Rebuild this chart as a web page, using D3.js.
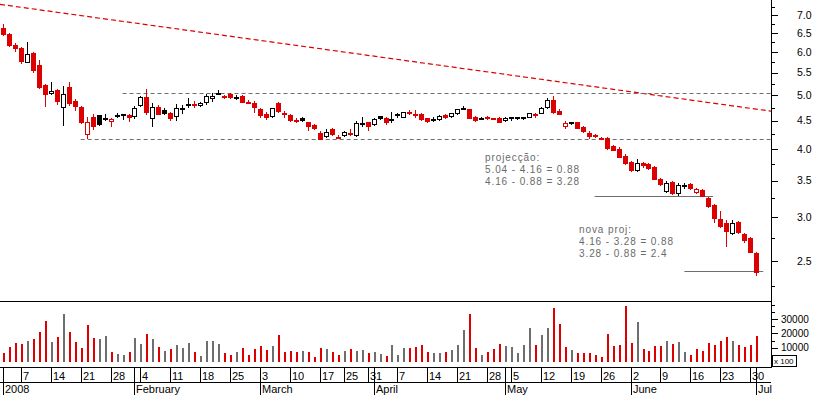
<!DOCTYPE html>
<html>
<head>
<meta charset="utf-8">
<script src="https://cdn.jsdelivr.net/npm/d3@7"></script>
<style>
  body { margin: 0; background: #fff; }
  svg { display: block; }
  text { font-family: "Liberation Sans", Arial, sans-serif; }
</style>
</head>
<body>
<div id="chart"></div>
<script>
// ---- data ----
const holidays = ["2008-03-21", "2008-03-24", "2008-05-01"];

const open = [6.63,6.47,6.17,6.09,5.76,5.98,5.68,5.22,5.04,5.12,
  4.76,5.18,4.88,4.77,4.25,4.56,4.60,4.53,4.50,4.60,
  4.61,4.60,4.59,4.80,4.96,4.54,4.76,4.70,4.64,4.59,
  4.74,4.81,4.82,4.80,4.86,4.95,5.03,4.99,5.03,4.97,
  4.99,4.87,4.84,4.72,4.63,4.59,4.84,4.65,4.61,4.51,
  4.54,4.47,4.42,4.28,4.22,4.34,4.20,4.24,4.28,4.24,
  4.45,4.47,4.43,4.58,4.55,4.52,4.61,4.57,4.66,4.63,
  4.62,4.54,4.51,4.52,4.61,4.58,4.64,4.73,4.72,4.57,
  4.54,4.57,4.54,4.55,4.51,4.55,4.55,4.55,4.57,4.63,
  4.65,4.76,4.91,4.68,4.40,4.46,4.47,4.38,4.28,4.24,
  4.19,4.19,4.05,4.00,3.88,3.79,3.66,3.76,3.75,3.71,
  3.53,3.35,3.48,3.32,3.43,3.45,3.33,3.37,3.26,3.16,
  2.98,2.93,2.81,2.94,2.80,2.75,2.58];

const high = [6.74,6.49,6.23,6.12,6.25,6.00,5.80,5.24,5.29,5.14,
  5.20,5.29,4.93,4.78,4.56,4.63,4.61,4.63,4.54,4.64,
  4.62,4.62,4.78,4.99,5.14,4.84,4.80,4.74,4.66,4.82,
  4.80,4.94,4.88,4.87,5.03,5.04,5.11,5.01,5.04,5.01,
  5.00,4.91,4.88,4.74,4.66,4.75,4.86,4.68,4.63,4.54,
  4.56,4.48,4.44,4.30,4.35,4.37,4.23,4.30,4.34,4.49,
  4.56,4.48,4.54,4.58,4.57,4.67,4.65,4.67,4.70,4.70,
  4.64,4.55,4.56,4.60,4.63,4.65,4.73,4.79,4.73,4.58,
  4.57,4.59,4.55,4.57,4.57,4.56,4.56,4.56,4.65,4.64,
  4.77,4.94,4.98,4.72,4.50,4.47,4.48,4.39,4.30,4.25,
  4.20,4.20,4.07,4.03,3.91,3.80,3.83,3.78,3.76,3.72,
  3.54,3.49,3.49,3.47,3.47,3.46,3.39,3.38,3.27,3.17,
  3.08,2.97,2.97,2.96,2.81,2.76,2.59];

const low = [6.44,6.15,6.03,5.72,5.74,5.52,5.15,4.78,5.03,4.82,
  4.42,4.80,4.70,4.45,4.18,4.34,4.42,4.51,4.40,4.57,
  4.53,4.49,4.55,4.78,4.62,4.40,4.62,4.63,4.51,4.51,
  4.65,4.77,4.76,4.78,4.82,4.89,5.03,4.95,4.95,4.93,
  4.86,4.85,4.67,4.57,4.53,4.57,4.67,4.57,4.49,4.48,
  4.49,4.33,4.34,4.16,4.20,4.24,4.18,4.22,4.24,4.22,
  4.40,4.33,4.41,4.52,4.44,4.48,4.57,4.57,4.62,4.57,
  4.51,4.47,4.49,4.51,4.54,4.57,4.63,4.73,4.54,4.49,
  4.53,4.53,4.52,4.47,4.50,4.51,4.52,4.52,4.57,4.57,
  4.64,4.74,4.64,4.62,4.37,4.44,4.36,4.29,4.19,4.20,
  4.16,3.99,3.97,3.86,3.75,3.64,3.64,3.71,3.67,3.52,
  3.43,3.34,3.31,3.30,3.39,3.38,3.32,3.28,3.13,2.94,
  2.88,2.66,2.80,2.81,2.71,2.59,2.36];

const close = [6.46,6.17,6.11,5.78,5.95,5.56,5.17,5.03,5.09,4.89,
  5.02,4.85,4.78,4.48,4.47,4.40,4.44,4.54,4.53,4.61,
  4.62,4.56,4.74,4.96,4.67,4.77,4.63,4.65,4.55,4.74,
  4.75,4.82,4.81,4.84,4.98,4.99,5.04,4.97,4.96,4.97,
  4.87,4.86,4.77,4.61,4.56,4.74,4.69,4.64,4.51,4.50,
  4.51,4.40,4.36,4.16,4.29,4.25,4.19,4.29,4.27,4.45,
  4.46,4.39,4.53,4.54,4.48,4.53,4.62,4.66,4.65,4.62,
  4.52,4.50,4.52,4.59,4.56,4.64,4.72,4.74,4.55,4.51,
  4.55,4.54,4.53,4.48,4.55,4.56,4.56,4.56,4.64,4.62,
  4.74,4.91,4.67,4.63,4.46,4.47,4.37,4.30,4.22,4.21,
  4.18,4.01,3.98,3.87,3.76,3.66,3.76,3.73,3.69,3.53,
  3.45,3.46,3.32,3.43,3.44,3.39,3.38,3.28,3.14,2.99,
  2.89,2.83,2.93,2.82,2.73,2.60,2.39];

const volume = [6500,10700,13500,12800,14900,16300,21200,28900,14200,17700,
  33600,21200,14200,10000,25900,17000,15900,18400,7200,5600,
  4900,7000,17000,12800,19600,16300,10700,7900,9100,12100,
  10000,13500,7200,4200,14900,14500,12800,6300,4900,7200,
  10000,4900,8900,11400,8600,11400,18900,7200,7900,7200,
  7900,7000,3700,10000,9100,7200,4900,7900,9300,7900,
  8600,6300,7200,5600,4400,12100,4900,10000,10000,10700,
  11900,7000,6300,6300,7000,8400,11900,22600,33600,10000,
  4900,7000,9100,12600,11200,10500,6300,11900,24000,11900,
  18900,24000,37700,26600,10500,8400,6300,6300,6300,4900,
  3500,19600,11200,11900,39100,13300,28000,9100,7700,11200,
  11200,14700,12600,14000,7000,4900,9100,7700,13300,11900,
  14700,17500,14700,11900,10500,11900,18200];

const monthLabels = ["2008", "February", "March", "April", "May", "June", "Jul"];
const priceTicks = [2.5, 3.0, 3.5, 4.0, 4.5, 5.0, 5.5, 6.0, 6.5, 7.0];
const priceMinorTicks = [2.25, 2.75, 3.25, 3.75, 4.25, 4.75, 5.25, 5.75, 6.25, 6.75, 7.25];
const volumeTicks = [10000, 20000, 30000];
const volumeMinorTicks = [5000, 15000, 25000, 35000, 40000];

// drawn lines: trend (red dashed), support/resistance (grey dashed), projections (grey solid)
const trendLine = [{i: -0.5, v: 7.32}, {i: 128.5, v: 4.68}];
const levelLines = [{v: 5.04, from: 20}, {v: 4.16, from: 13}];
const projLines = [{v: 3.28, from: 99, to: 118.8}, {v: 2.4, from: 114, to: 127.2}];

// ---- trading days ----
const hol = new Set(holidays);
const fmt = d3.timeFormat("%Y-%m-%d");
const days = d3.timeDay.range(new Date(2008, 0, 2), new Date(2008, 6, 2))
  .filter(d => d.getDay() !== 0 && d.getDay() !== 6 && !hol.has(fmt(d)));

const data = days.map((d, i) => ({
  i, date: d, open: open[i], high: high[i], low: low[i], close: close[i], volume: volume[i],
  up: i === 0 ? false : close[i] >= close[i - 1]
}));

// ---- layout ----
const W = 817, H = 395;
const plotRight = 771;
const priceBottom = 301, volBottom = 362, axisTop = 367, dayRow = 382;
const RED = "#dd0000", GREY = "#6e6e6e";

const svg = d3.select("#chart").append("svg").attr("width", W).attr("height", H);

const x = d3.scaleLinear().domain([-0.5, 128.5]).range([0, plotRight]);
const y = d3.scaleLog().domain([2.1135, 7.455]).range([priceBottom, 0]);
const vy = d3.scaleLinear().domain([0, 42650]).range([volBottom, priceBottom]);
const cx = i => Math.round(x(i));

svg.append("clipPath").attr("id", "pclip")
  .append("rect").attr("x", 0).attr("y", 0).attr("width", plotRight).attr("height", priceBottom);

const price = svg.append("g").attr("clip-path", "url(#pclip)");

// trend line
price.append("line")
  .attr("x1", x(trendLine[0].i)).attr("y1", y(trendLine[0].v))
  .attr("x2", x(trendLine[1].i)).attr("y2", y(trendLine[1].v))
  .attr("stroke", RED).attr("stroke-width", 1.2).attr("stroke-dasharray", "5,3");

// dashed levels
price.selectAll(".level").data(levelLines).enter().append("line")
  .attr("x1", d => x(d.from)).attr("x2", plotRight)
  .attr("y1", d => Math.round(y(d.v)) + 0.5).attr("y2", d => Math.round(y(d.v)) + 0.5)
  .attr("stroke", GREY).attr("stroke-width", 1).attr("stroke-dasharray", "4,3");

// projection lines
price.selectAll(".proj").data(projLines).enter().append("line")
  .attr("x1", d => x(d.from)).attr("x2", d => x(d.to))
  .attr("y1", d => Math.round(y(d.v)) + 0.5).attr("y2", d => Math.round(y(d.v)) + 0.5)
  .attr("stroke", GREY).attr("stroke-width", 1.2);

// candles
const candle = price.selectAll(".candle").data(data).enter().append("g")
  .attr("shape-rendering", "crispEdges");

candle.append("line")
  .attr("x1", d => cx(d.i) + 0.5).attr("x2", d => cx(d.i) + 0.5)
  .attr("y1", d => Math.round(y(d.high))).attr("y2", d => Math.round(y(d.low)) + 1)
  .attr("stroke", d => d.up ? "#000" : RED);

candle.each(function (d) {
  const g = d3.select(this);
  const col = d.up ? "#000" : RED;
  const top = Math.round(y(Math.max(d.open, d.close)));
  const bot = Math.round(y(Math.min(d.open, d.close)));
  const hollow = d.close > d.open;
  if (bot - top < 2) {
    g.append("rect").attr("x", cx(d.i) - 2).attr("y", top).attr("width", 5).attr("height", 2)
      .attr("fill", col);
  } else if (hollow) {
    g.append("rect").attr("x", cx(d.i) - 1.5).attr("y", top + 0.5)
      .attr("width", 4).attr("height", bot - top)
      .attr("fill", "#fff").attr("stroke", col).attr("stroke-width", 1);
  } else {
    g.append("rect").attr("x", cx(d.i) - 2).attr("y", top)
      .attr("width", 5).attr("height", bot - top + 1).attr("fill", col);
  }
});

// annotations
const note = svg.append("g").attr("fill", "#6a6a6a")
  .style("font-family", "'DejaVu Sans', sans-serif").style("font-size", "10px")
  .style("letter-spacing", "0.9px");
[["projecção:", 161], ["5.04 - 4.16 = 0.88", 173], ["4.16 - 0.88 = 3.28", 185]]
  .forEach(([t, yy]) => note.append("text").attr("x", 485).attr("y", yy).text(t));
[["nova proj:", 233], ["4.16 - 3.28 = 0.88", 245], ["3.28 - 0.88 = 2.4", 257]]
  .forEach(([t, yy]) => note.append("text").attr("x", 579).attr("y", yy).text(t));

// volume bars
svg.append("g").attr("shape-rendering", "crispEdges")
  .selectAll("rect").data(data).enter().append("rect")
  .attr("x", d => cx(d.i) - 0.5).attr("width", 2)
  .attr("y", d => Math.round(vy(d.volume)))
  .attr("height", d => volBottom - Math.round(vy(d.volume)))
  .attr("fill", d => d.up ? GREY : RED);

// frame lines
const frame = svg.append("g").attr("stroke", "#000").attr("shape-rendering", "crispEdges");
[priceBottom, axisTop, dayRow].forEach(yy =>
  frame.append("line").attr("x1", 0).attr("x2", plotRight).attr("y1", yy + 0.5).attr("y2", yy + 0.5));
frame.append("line").attr("x1", plotRight + 0.5).attr("x2", plotRight + 0.5)
  .attr("y1", 0).attr("y2", axisTop + 1);

// right price axis
svg.append("g").attr("transform", `translate(${plotRight},0)`)
  .call(d3.axisRight(y).tickValues(priceMinorTicks).tickSize(4).tickFormat(""))
  .call(g => g.select(".domain").remove());
svg.append("g").attr("transform", `translate(${plotRight},0)`)
  .call(d3.axisRight(y).tickValues(priceTicks).tickSize(7).tickPadding(19).tickFormat(d3.format(".1f")))
  .call(g => g.select(".domain").remove())
  .call(g => g.selectAll("text").style("font-size", "10.5px").attr("fill", "#000"));

// right volume axis
svg.append("g").attr("transform", `translate(${plotRight},0)`)
  .call(d3.axisRight(vy).tickValues(volumeMinorTicks).tickSize(4).tickFormat(""))
  .call(g => g.select(".domain").remove());
svg.append("g").attr("transform", `translate(${plotRight},0)`)
  .call(d3.axisRight(vy).tickValues(volumeTicks).tickSize(7).tickPadding(3).tickFormat(d => d))
  .call(g => g.select(".domain").remove())
  .call(g => g.selectAll("text").style("font-size", "10px").attr("fill", "#000"));
svg.selectAll(".tick line").attr("shape-rendering", "crispEdges");

const unit = svg.append("g");
unit.append("rect").attr("x", 772.5).attr("y", 355.5).attr("width", 24).attr("height", 11)
  .attr("fill", "#fff").attr("stroke", "#000").attr("shape-rendering", "crispEdges");
unit.append("text").attr("x", 774).attr("y", 364).style("font-size", "8px").text("x 100");

// date axis: week ticks and month ticks
const weekStarts = data.filter((d, k) => k > 0 && d3.timeMonday.floor(d.date) > d3.timeMonday.floor(data[k - 1].date));
const monthStarts = data.filter((d, k) => k === 0 || d.date.getMonth() !== data[k - 1].date.getMonth());

const dax = svg.append("g").attr("shape-rendering", "crispEdges");
dax.selectAll(".wk").data(weekStarts).enter().append("line")
  .attr("x1", d => cx(d.i) + 0.5).attr("x2", d => cx(d.i) + 0.5)
  .attr("y1", axisTop).attr("y2", dayRow).attr("stroke", "#000");
dax.selectAll(".wkl").data(weekStarts).enter().append("text")
  .attr("x", d => cx(d.i) + 2).attr("y", 379.5)
  .style("font-size", "11px").text(d => d.date.getDate());

dax.selectAll(".mo").data(monthStarts).enter().append("line")
  .attr("x1", d => cx(d.i) + 0.5).attr("x2", d => cx(d.i) + 0.5)
  .attr("y1", axisTop).attr("y2", H).attr("stroke", "#000");
dax.selectAll(".mol").data(monthStarts).enter().append("text")
  .attr("x", d => cx(d.i) + 2).attr("y", 392.5)
  .style("font-size", "11px").text((d, k) => monthLabels[k]);
</script>
</body>
</html>
